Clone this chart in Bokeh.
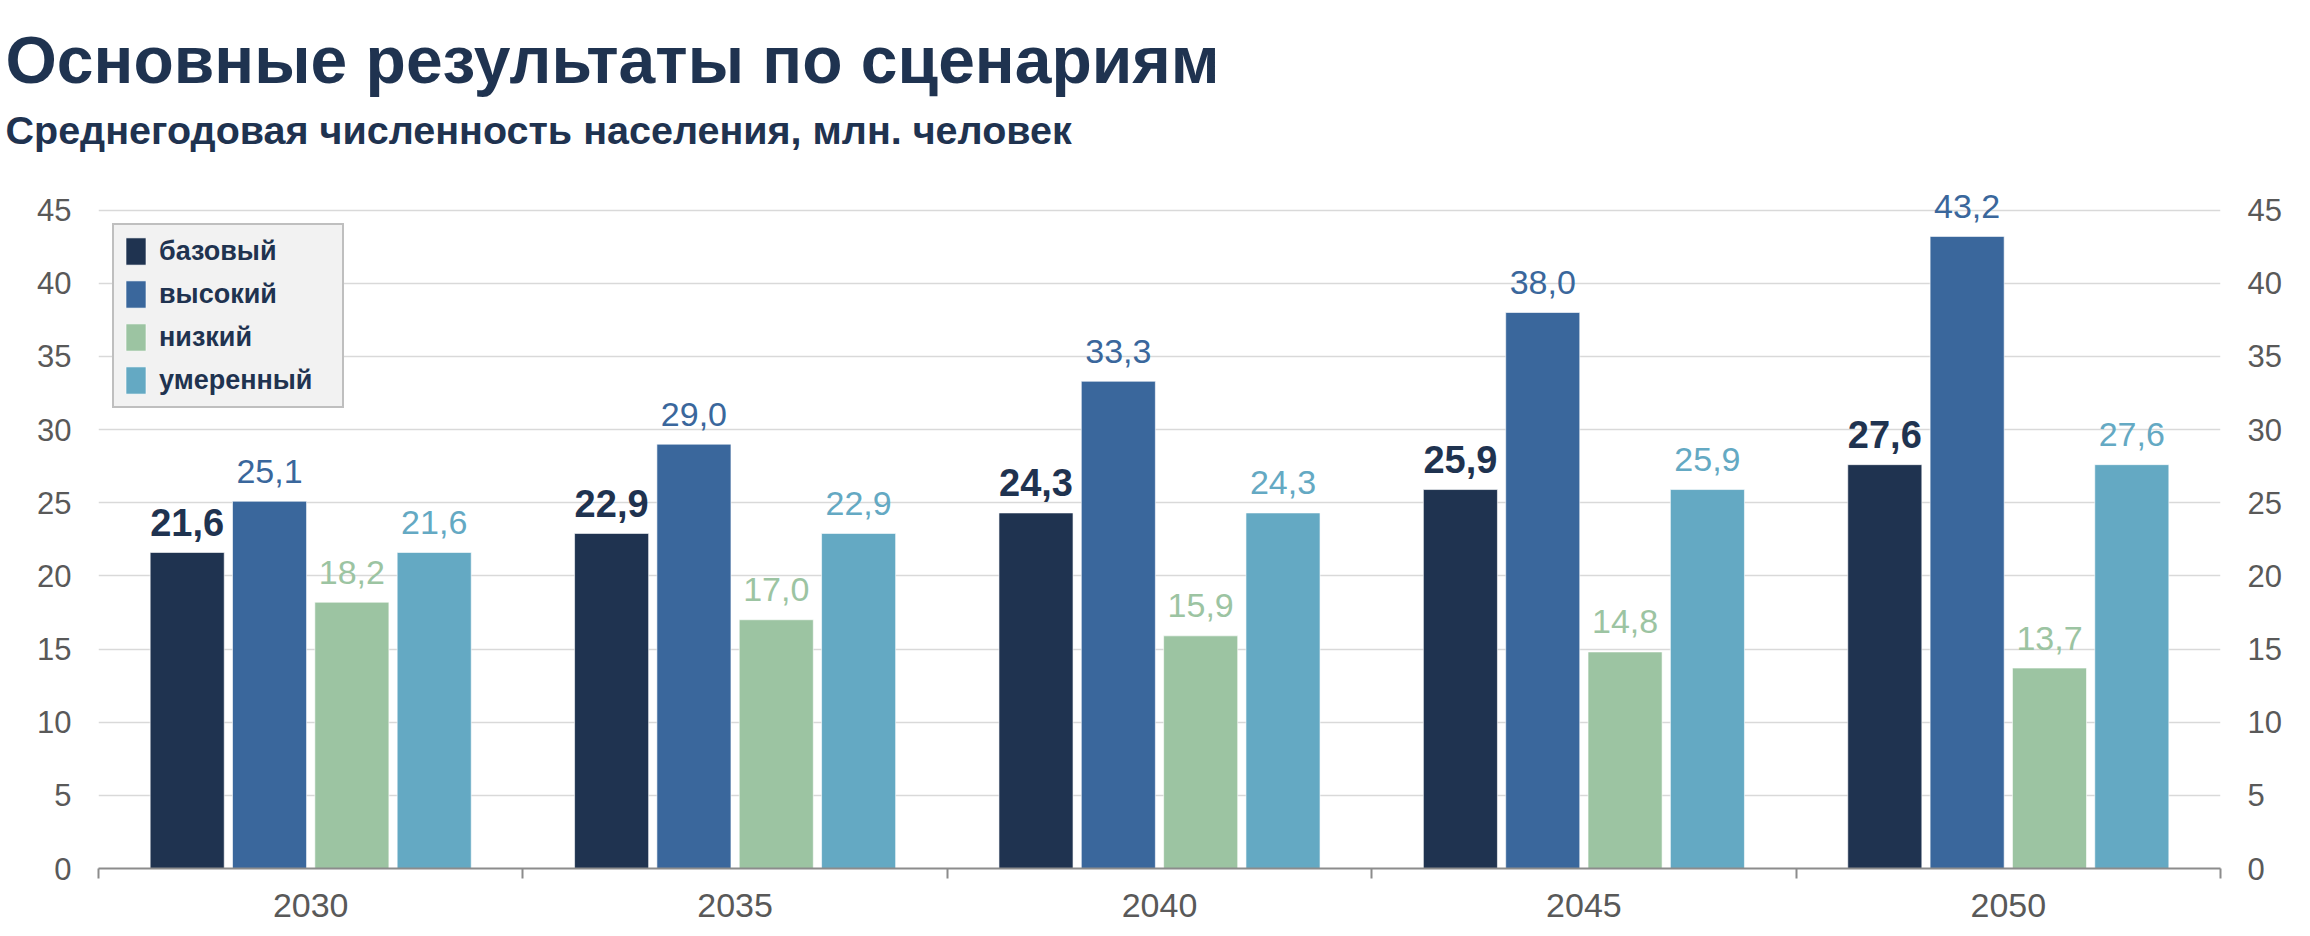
from bokeh.plotting import figure
from bokeh.models import (Range1d, LinearAxis, FixedTicker, Legend, LegendItem,
                          Title, ColumnDataSource, Grid)
from bokeh.core.properties import value
from bokeh.embed import file_html
from bokeh.resources import INLINE

# ---- data ----
years = ["2030", "2035", "2040", "2045", "2050"]
scenarios = ["базовый", "высокий", "низкий", "умеренный"]
base = [21.6, 22.9, 24.3, 25.9, 27.6]
high = [25.1, 29.0, 33.3, 38.0, 43.2]
low = [18.2, 17.0, 15.9, 14.8, 13.7]
moderate = [21.6, 22.9, 24.3, 25.9, 27.6]
y_ticks = [0, 5, 10, 15, 20, 25, 30, 35, 40, 45]

title_text = "Основные результаты по сценариям"
subtitle_text = "Среднегодовая численность населения, млн. человек"

series = [base, high, low, moderate]
colors = ["#1F3350", "#3A679C", "#9CC4A2", "#64A9C3"]
label_sizes = ["38px", "34px", "34px", "34px"]
label_styles = ["bold", "normal", "normal", "normal"]

NAVY = "#1F3350"
GREY_TXT = "#595959"
FONT = "Liberation Sans"

p = figure(width=2294, height=936, output_backend="svg", toolbar_location=None,
           x_range=Range1d(0, len(years)), y_range=Range1d(0, 47.5),
           min_border_left=98, min_border_right=74, min_border_top=173,
           min_border_bottom=68, x_axis_location=None, y_axis_location=None,
           title=None)
p.outline_line_color = None
p.xgrid.visible = False
p.ygrid.visible = False

grid = Grid(dimension=1, ticker=FixedTicker(ticks=y_ticks),
            grid_line_color="#d9d9d9", grid_line_width=1.5)
p.add_layout(grid, "center")

bar_w = 0.1745
step = 0.194
items = []
for k, (name, vals, col) in enumerate(zip(scenarios, series, colors)):
    off = (k - 1.5) * step
    xs = [i + 0.5 + off for i in range(len(years))]
    src = ColumnDataSource(dict(
        x=xs, top=vals,
        lab=[f"{v:.1f}".replace(".", ",") for v in vals]))
    r = p.vbar(x="x", top="top", bottom=0, width=bar_w, source=src,
               fill_color=col, line_color="white", line_width=1, line_alpha=0.6)
    p.text(x="x", y="top", text="lab", source=src,
           text_font=value(FONT), text_font_size=value(label_sizes[k]),
           text_font_style=label_styles[k], text_color=col,
           text_align="center", text_baseline="alphabetic", y_offset=-30)
    items.append(LegendItem(label=name, renderers=[r]))

# x axis: labels at category centres, tick marks at boundaries
xaxis = LinearAxis(
    ticker=FixedTicker(ticks=[i + 0.5 for i in range(len(years))],
                       minor_ticks=list(range(len(years) + 1))),
    major_label_overrides={i + 0.5: y for i, y in enumerate(years)},
    major_tick_out=0, major_tick_in=0,
    minor_tick_out=10, minor_tick_in=0,
    minor_tick_line_color="#8c8c8c", minor_tick_line_width=2,
    axis_line_color="#8c8c8c", axis_line_width=2,
    major_label_text_font=FONT, major_label_text_font_size="34px",
    major_label_text_color=GREY_TXT, major_label_standoff=15)
p.add_layout(xaxis, "below")

for side in ("left", "right"):
    ax = LinearAxis(ticker=FixedTicker(ticks=y_ticks),
                    axis_line_color=None, major_tick_line_color=None,
                    minor_tick_line_color=None,
                    major_label_text_font=FONT, major_label_text_font_size="31px",
                    major_label_text_color=GREY_TXT, major_label_standoff=21)
    p.add_layout(ax, side)

legend = Legend(items=items, location=(14, 460),
                background_fill_color="#f2f2f2", background_fill_alpha=1,
                border_line_color="#8c8c8c", border_line_width=2,
                label_text_font=FONT, label_text_font_style="bold",
                label_text_font_size="27px", label_text_color=NAVY,
                glyph_width=25, glyph_height=34, label_standoff=11,
                padding=9, spacing=9, label_width=174, margin=0)
p.add_layout(legend, "center")

sub = Title(text=subtitle_text, text_font=FONT, text_font_size="39.5px",
            text_font_style="bold", text_color=NAVY, align="left",
            offset=-93, standoff=44)
main = Title(text=title_text, text_font=FONT, text_font_size="66px",
             text_font_style="bold", text_color=NAVY, align="left",
             offset=-93, standoff=-27)
p.add_layout(sub, "above")
p.add_layout(main, "above")

open("out.html", "w").write(file_html(p, INLINE))
